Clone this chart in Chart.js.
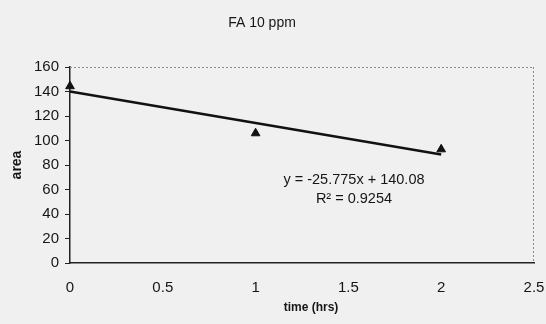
<!DOCTYPE html>
<html>
<head>
<meta charset="utf-8">
<script src="https://cdn.jsdelivr.net/npm/chart.js@4/dist/chart.umd.min.js"></script>
<style>
  html, body { margin: 0; padding: 0; background: #f0f0f0; }
  #wrap { width: 546px; height: 324px; position: relative; }
</style>
</head>
<body>
<div id="wrap"><canvas id="c" width="546" height="324"></canvas></div>
<script>
// ---- data ----
const chartTitle = "FA 10 ppm";
const xTitle = "time (hrs)";
const yTitle = "area";
const timeHrs = [0, 1, 2];
const areaValues = [144.3, 105.9, 92.8];
const trendSlope = [-25.775];
const trendIntercept = [140.08];
const trendRange = [0, 2];
const equationLines = ["y = -25.775x + 140.08", "R\u00B2 = 0.9254"];
const equationAnchor = [1.53, 67.5, 52.6]; // x, y of line 1, y of line 2 (data units)
const xTicks = [0, 0.5, 1, 1.5, 2, 2.5];
const yTicks = [0, 20, 40, 60, 80, 100, 120, 140, 160];

const FONT = "'Liberation Sans', Arial, sans-serif";
const TEXT = "#161616";

const points = timeHrs.map((t, i) => ({ x: t, y: areaValues[i] }));
const trend = trendRange.map(t => ({ x: t, y: trendSlope[0] * t + trendIntercept[0] }));

const decor = {
  id: 'decor',
  beforeDraw(chart) {
    const { ctx } = chart;
    ctx.save();
    ctx.fillStyle = '#f0f0f0';
    ctx.fillRect(0, 0, chart.width, chart.height);
    ctx.restore();
  },
  beforeDatasetsDraw(chart) {
    const { ctx, chartArea: a } = chart;
    ctx.save();
    ctx.strokeStyle = '#8a8a8a';
    ctx.lineWidth = 1;
    ctx.setLineDash([2, 2]);
    ctx.beginPath();
    ctx.moveTo(a.left, a.top + 0.5);
    ctx.lineTo(a.right, a.top + 0.5);
    ctx.moveTo(a.right - 0.5, a.top);
    ctx.lineTo(a.right - 0.5, a.bottom);
    ctx.stroke();
    ctx.restore();
  },
  afterDraw(chart) {
    const { ctx, scales } = chart;
    ctx.save();
    ctx.fillStyle = TEXT;
    ctx.textAlign = 'center';
    ctx.textBaseline = 'middle';
    ctx.font = "14px " + FONT;
    ctx.fillText(chartTitle, 262, 23);
    ctx.font = "14.5px " + FONT;
    const ex = scales.x.getPixelForValue(equationAnchor[0]);
    ctx.fillText(equationLines[0], ex, scales.y.getPixelForValue(equationAnchor[1]));
    ctx.fillText(equationLines[1], ex, scales.y.getPixelForValue(equationAnchor[2]));
    ctx.font = "bold 12px " + FONT;
    ctx.fillText(xTitle, 311, 308);
    ctx.restore();
  }
};

new Chart(document.getElementById('c'), {
  type: 'scatter',
  data: {
    datasets: [
      {
        label: 'area',
        data: points,
        pointStyle: 'triangle',
        pointRadius: 5,
        pointHoverRadius: 5,
        backgroundColor: '#111',
        borderColor: '#111',
        borderWidth: 1,
        clip: false,
        order: 1
      },
      {
        label: 'trend',
        type: 'line',
        data: trend,
        borderColor: '#111',
        borderWidth: 2.5,
        pointRadius: 0,
        fill: false,
        clip: false,
        order: 2
      }
    ]
  },
  plugins: [decor],
  options: {
    responsive: false,
    animation: false,
    events: [],
    layout: { padding: { top: 67, right: 0, left: 0, bottom: 0 } },
    plugins: {
      legend: { display: false },
      title: { display: false },
      tooltip: { enabled: false }
    },
    scales: {
      x: {
        type: 'linear',
        min: 0, max: 2.5,
        afterBuildTicks(s) { s.ticks = xTicks.map(v => ({ value: v })); },
        afterFit(s) { s.height = 61; s.paddingRight = 12; s.paddingLeft = 0; },
        grid: { drawOnChartArea: false, drawTicks: true, tickLength: 8, tickColor: 'transparent' },
        border: { color: '#222', width: 1.5 },
        ticks: {
          color: TEXT, padding: 8,
          font: { family: FONT, size: 15 },
          maxRotation: 0,
          callback: v => String(v)
        },
        title: { display: false }
      },
      y: {
        type: 'linear',
        min: 0, max: 160,
        afterBuildTicks(s) { s.ticks = yTicks.map(v => ({ value: v })); },
        afterFit(s) { s.width = 70; },
        grid: { drawOnChartArea: false, drawTicks: true, tickLength: 5, tickColor: '#222', tickWidth: 1 },
        border: { color: '#222', width: 1.5 },
        ticks: {
          color: TEXT, padding: 6,
          font: { family: FONT, size: 15 },
          callback: v => String(v)
        },
        title: {
          display: true, text: yTitle, color: TEXT,
          font: { family: FONT, size: 14, weight: 'bold' },
          padding: { top: 9, bottom: 0 }
        }
      }
    }
  }
});
</script>
</body>
</html>
